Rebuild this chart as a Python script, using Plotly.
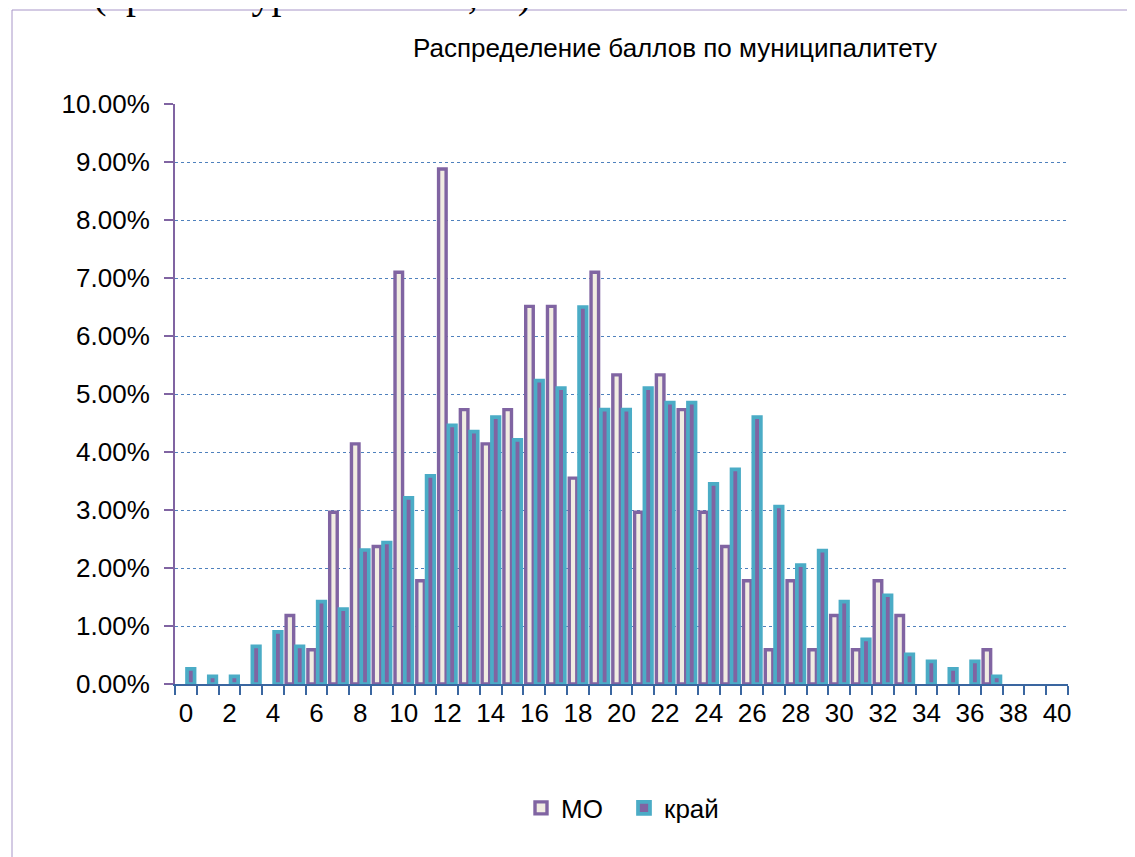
import plotly.graph_objects as go

scores = list(range(0, 41))
mo_pct = [0, 0, 0, 0, 0, 1.18, 0.59, 2.96, 4.14, 2.37, 7.10, 1.78, 8.88, 4.73, 4.14, 4.73,
          6.51, 6.51, 3.55, 7.10, 5.33, 2.96, 5.33, 4.73, 2.96, 2.37, 1.78, 0.59, 1.78, 0.59,
          1.18, 0.59, 1.78, 1.18, 0, 0, 0, 0.59, 0, 0, 0]
krai_pct = [0.26, 0.13, 0.13, 0.65, 0.90, 0.65, 1.42, 1.29, 2.31, 2.44, 3.21, 3.59, 4.46, 4.35,
            4.60, 4.21, 5.23, 5.10, 6.50, 4.73, 4.73, 5.10, 4.85, 4.85, 3.45, 3.70, 4.60, 3.06,
            2.05, 2.30, 1.42, 0.77, 1.53, 0.51, 0.39, 0.26, 0.39, 0.13, 0, 0, 0]
x_tick_vals = list(range(0, 41, 2))
x_tick_text = [str(v) for v in x_tick_vals]
y_tick_vals = [i / 100 for i in range(0, 11)]
y_tick_text = ["%.2f%%" % i for i in range(0, 11)]

title_text = "Распределение баллов по муниципалитету"
top_text = ",00% (краевой уровень – 17,32)."

PURPLE = "#8064A2"
TEAL = "#4BACC6"
BEIGE = "#F1ECE2"
BLUE = "#4F81BD"
FONT = "Liberation Sans, Arial, sans-serif"

# page body has an 8px margin: figure drawn at offset (8, 8)
OFF = 8
W, H = 1135 - OFF, 857 - OFF
L, R, T, B = 175 - OFF, 67, 104 - OFF, 857 - 684
pw, ph = W - L - R, H - T - B


def px_x(px):
    # px in screenshot coordinates
    return (px - OFF - L) / pw


def px_y(py):
    return (H - B - (py - OFF)) / ph


def pct(vals):
    return [v / 100 if v else None for v in vals]


fig = go.Figure()
fig.add_trace(go.Bar(
    x=scores, y=pct(mo_pct), name="МО",
    marker=dict(color=BEIGE, line=dict(color=PURPLE, width=3.4)),
))
fig.add_trace(go.Bar(
    x=scores, y=pct(krai_pct), name="край",
    marker=dict(color=PURPLE, line=dict(color=TEAL, width=3.7)),
))

fig.update_layout(
    width=W, height=H,
    margin=dict(l=L, r=R, t=T, b=B, pad=0),
    paper_bgcolor="white", plot_bgcolor="white",
    barmode="group", bargap=0.10, bargroupgap=0.23,
    font=dict(family=FONT, size=26, color="black"),
    showlegend=True,
    legend=dict(orientation="h", x=px_x(521), xanchor="left", y=px_y(808), yanchor="middle",
                font=dict(family=FONT, size=26, color="black"), entrywidth=58,
                traceorder="normal", itemclick=False),
    xaxis=dict(
        range=[-0.5, 40.5], tickmode="array", tickvals=x_tick_vals, ticktext=x_tick_text,
        ticks="", showgrid=False, zeroline=False, ticklabelstandoff=5,
        showline=True, linecolor="#3A66A0", linewidth=2,
        tickfont=dict(family=FONT, size=26, color="black"),
        minor=dict(tick0=0.5, dtick=1, ticks="outside", ticklen=9, tickwidth=2,
                   tickcolor="#3A66A0", showgrid=False),
    ),
    yaxis=dict(
        range=[0, 0.10], tickmode="array", tickvals=y_tick_vals, ticktext=y_tick_text,
        ticks="outside", ticklen=9, tickwidth=2, tickcolor=PURPLE, ticklabelstandoff=9,
        showline=True, linecolor=PURPLE, linewidth=2, zeroline=False,
        showgrid=True, gridcolor=BLUE, gridwidth=1, griddash="dot",
        tickfont=dict(family=FONT, size=26, color="black"),
    ),
    annotations=[
        dict(text=title_text, x=px_x(675), y=px_y(48), xref="paper", yref="paper",
             xanchor="center", yanchor="middle", showarrow=False,
             font=dict(family=FONT, size=26, color="black")),
        dict(text=top_text, x=px_x(-2), y=px_y(19), xref="paper", yref="paper",
             xanchor="left", yanchor="bottom", showarrow=False,
             font=dict(family="Liberation Serif, Times New Roman, serif", size=40, color="black")),
    ],
    shapes=[
        dict(type="line", xref="paper", yref="paper", x0=px_x(12), x1=px_x(12),
             y0=px_y(10), y1=px_y(900), line=dict(color="#A896C8", width=1)),
        dict(type="line", xref="paper", yref="paper", x0=px_x(12), x1=px_x(1200),
             y0=px_y(10), y1=px_y(10), line=dict(color="#A896C8", width=1)),
    ],
)

fig.write_html("out.html")
